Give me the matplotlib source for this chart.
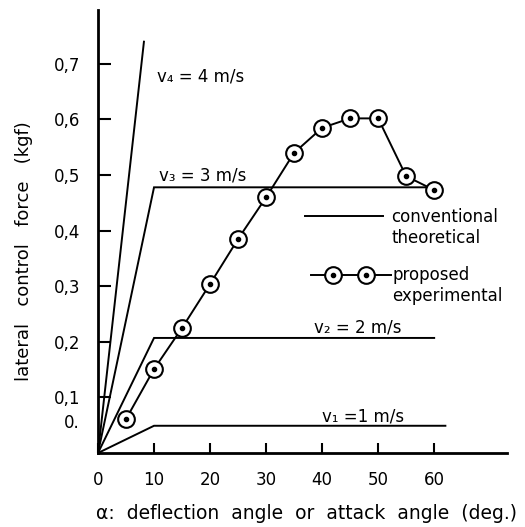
import matplotlib
matplotlib.use("Agg")
import numpy as np
import matplotlib.pyplot as plt
from matplotlib.lines import Line2D
from matplotlib.legend_handler import HandlerLine2D

# ---- data ----
v1_angle = [0, 10, 62]
v1_force = [0, 0.049, 0.049]
v2_angle = [0, 10, 60]
v2_force = [0, 0.207, 0.207]
v3_angle = [0, 10, 58.5]
v3_force = [0, 0.478, 0.478]
v4_angle = [0, 8.2]
v4_force = [0, 0.74]

exp_angle = [5, 10, 15, 20, 25, 30, 35, 40, 45, 50, 55, 60]
exp_force = [0.061, 0.151, 0.225, 0.304, 0.385, 0.46, 0.54, 0.585, 0.602, 0.602, 0.498, 0.473]

x_ticks = [0, 10, 20, 30, 40, 50, 60]
y_ticks = [0.1, 0.2, 0.3, 0.4, 0.5, 0.6, 0.7]
y_ticklabels = ["0,1", "0,2", "0,3", "0,4", "0,5", "0,6", "0,7"]

FS = 12
plt.rcParams['font.family'] = ['DejaVu Sans']


class InsetMarkerHandler(HandlerLine2D):
    """Full-length line with markers inset from both ends."""
    def __init__(self, pad_left=1.3, pad_right=1.5, **kw):
        super().__init__(**kw)
        self.pad_left = pad_left
        self.pad_right = pad_right

    def create_artists(self, legend, orig_handle, xdescent, ydescent, width, height, fontsize, trans):
        xline = np.array([-xdescent, -xdescent + width])
        xmark = np.linspace(-xdescent + self.pad_left * fontsize,
                            -xdescent + width - self.pad_right * fontsize, self._numpoints)
        y = (height - ydescent) / 2
        line = Line2D(xline, [y, y], color='black', lw=orig_handle.get_linewidth())
        mk = Line2D(xmark, [y] * len(xmark), ls='none', marker='o', ms=orig_handle.get_markersize(),
                    mfc='white', mec='black', mew=1.5)
        dot = Line2D(xmark, [y] * len(xmark), ls='none', marker='o', ms=3, color='black')
        for a in (line, mk, dot):
            a.set_transform(trans)
        return [line, mk, dot]


fig = plt.figure(figsize=(5.25, 5.27), dpi=100)
ax = fig.add_axes([98 / 525, 74 / 527, 409 / 525, 443 / 527])
ax.set_xlim(0, 73)
ax.set_ylim(0, 0.797)

lw = 1.4
for xs, ys in [(v1_angle, v1_force), (v2_angle, v2_force), (v3_angle, v3_force), (v4_angle, v4_force)]:
    ax.plot(xs, ys, color='black', lw=lw, solid_joinstyle='miter')

ax.plot(exp_angle, exp_force, color='black', lw=lw, marker='o', ms=12,
        mfc='white', mec='black', mew=1.5, zorder=3)
ax.plot(exp_angle, exp_force, ls='none', marker='o', ms=3, color='black', zorder=4)

# spines
for s in ['top', 'right']:
    ax.spines[s].set_visible(False)
for s in ['left', 'bottom']:
    ax.spines[s].set_linewidth(2)

ax.set_xticks(x_ticks)
ax.set_xticklabels([str(v) for v in x_ticks], fontsize=FS)
ax.set_yticks(y_ticks)
ax.set_yticklabels(y_ticklabels, fontsize=FS)
ax.tick_params(axis='x', direction='in', length=7, width=1.5, pad=13)
ax.tick_params(axis='y', direction='in', length=9, width=1.5, pad=13)
ax.text(-3.3, 0.054, "0.", fontsize=FS, ha='right', va='center')

ax.set_xlabel("α:  deflection  angle  or  attack  angle  (deg.)", fontsize=13.5)
ax.xaxis.set_label_coords(0.51, -0.115)
ax.set_ylabel("lateral   control   force   (kgf)", fontsize=13)
ax.yaxis.set_label_coords(-0.16, 0.455)

# curve labels
ax.text(10.5, 0.678, "v₄ = 4 m/s", fontsize=FS, va='center')
ax.text(10.8, 0.5, "v₃ = 3 m/s", fontsize=FS, va='center')
ax.text(38.6, 0.225, "v₂ = 2 m/s", fontsize=FS, va='center')
ax.text(40, 0.065, "v₁ =1 m/s", fontsize=FS, va='center')

# legends
blank = Line2D([], [], ls='none')
h1 = Line2D([], [], color='black', lw=lw)
leg1 = ax.legend([h1, blank], ["conventional", "theoretical"], loc='upper left',
                 bbox_to_anchor=(0.505, 0.553), frameon=False, fontsize=FS,
                 handlelength=4.7, handletextpad=0.5, labelspacing=0.15,
                 borderaxespad=0, borderpad=0)
ax.add_artist(leg1)
h2 = Line2D([], [], color='black', lw=lw, marker='o', ms=12, mfc='white', mec='black', mew=1.5)
leg2 = ax.legend([h2, blank], ["proposed", "experimental"], loc='upper left',
                 bbox_to_anchor=(0.522, 0.421), frameon=False, fontsize=FS,
                 handlelength=4.8, handletextpad=0.05, labelspacing=0.15,
                 borderaxespad=0, borderpad=0,
                 handler_map={h2: InsetMarkerHandler(numpoints=2, pad_left=1.32, pad_right=1.5)})

fig.savefig("out.png", dpi=100)
